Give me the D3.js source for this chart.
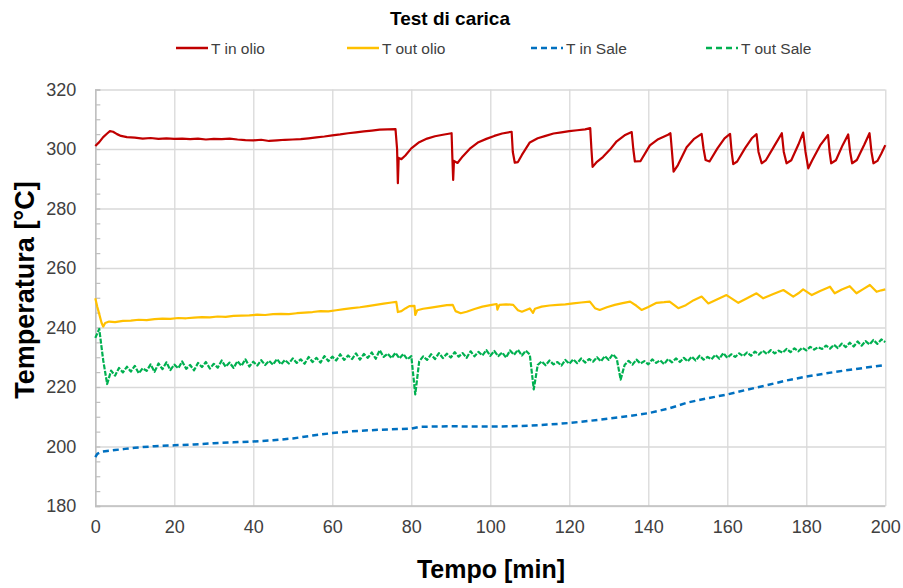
<!DOCTYPE html>
<html>
<head lang="it">
    <meta charset="UTF-8">
    <title>Test di carica</title>
    <script src="https://d3js.org/d3.v7.min.js"></script>
    <style>
        body { margin: 0; background: #fff; }
        svg text { font-family: "Liberation Sans", Arial, sans-serif; }
        .grid line { stroke: #d9d9d9; stroke-width: 1.3; }
        .grid path { display: none; }
        .line { fill: none; stroke-linejoin: round; }
    </style>
</head>
<body>
<svg id="chart" width="903" height="588"></svg>
<script>

    // data: [minutes, °C]
    const T_IN_OLIO = [[0,301.0],[1,302.3],[2,304.0],[3,305.2],[3.7,306.0],[4.5,305.8],[5.5,305.0],[6.5,304.4],[8,304.0],[10,303.8],
        [12,303.5],[14,303.7],[16,303.4],[18,303.6],[20,303.4],[22,303.5],[24,303.3],[26,303.5],[28,303.2],[30,303.4],
        [32,303.3],[34,303.5],[36,303.2],[38,303.0],[40,302.9],[42,303.1],[44,302.7],[46,302.9],[48,303.1],[50,303.2],
        [52,303.3],[54,303.6],[56,303.9],[58,304.2],[60,304.6],[62,304.9],[64,305.3],[66,305.6],[68,305.9],[70,306.2],
        [72,306.5],[74,306.6],[76,306.7],[76.4,300],[76.6,288.5],[76.8,297],[77.5,296.6],[78.5,297.8],[80,300.2],[82,302.3],
        [84,303.5],[86,304.3],[88,304.8],[90.2,305.3],[90.4,297],[90.6,289.6],[90.8,296],[91.7,295.3],[93,297.5],[95,300.3],
        [97,302.3],[99,303.4],[101,304.4],[103,305.2],[105.4,305.8],[105.7,299],[106.2,295.4],[107,295.6],[108,298],[110,302.2],
        [112,303.6],[114,304.4],[116,305.2],[118,305.6],[120,306],[122,306.3],[124,306.6],[125.3,307],[125.6,300],[125.9,294],
        [127,295.7],[128.5,297.3],[130.3,299.8],[132,302.6],[134,304.6],[135.8,305.7],[136.2,300],[136.6,295.8],[138,295.9],[140.4,301.2],
        [142.5,303.3],[145,304.8],[145.6,305.3],[146,299],[146.4,292.4],[147.5,294.6],[149.7,300.6],[151.5,303.3],[153.5,305.1],[154,300],
        [154.5,296.3],[155.5,295.8],[157.5,300.2],[159.3,303.6],[160.7,305.1],[161.1,299],[161.5,294.9],[162.5,295.8],[164.5,300.3],[166.2,303.6],
        [167.4,305],[167.9,299],[168.7,295.2],[169.8,296.3],[171.8,300.8],[173.8,305.3],[174.3,299],[175,295.2],[176.2,296.2],[178,301.5],
        [179.2,305.5],[179.8,299],[180.5,293.5],[181.5,296.2],[183.5,301.2],[185.5,304.7],[185.9,299],[186.3,295.2],[187.5,296.2],[189.2,301.3],
        [190.6,304.9],[191.1,299],[191.6,295.2],[192.8,296.3],[194.7,301.5],[196,305.3],[196.5,299],[197,295.2],[198,296],[199,298.5],[200,301.3]];

    const T_OUT_OLIO = [[0,249.8],[0.5,247],[1,244.5],[1.6,241.5],[2,240.3],[2.5,241.5],[3.5,242],[5,241.8],[7,242.2],[9,242.3],
        [11,242.6],[13,242.5],[15,242.8],[17,243],[19,242.9],[21,243.2],[23,243.1],[25,243.3],[27,243.5],[29,243.4],
        [31,243.7],[33,243.6],[35,243.9],[37,244],[39,244.1],[41,244.3],[43,244.2],[45,244.5],[47,244.6],[49,244.5],
        [51,244.8],[53,245],[55,245.2],[57,245.5],[59,245.4],[61,245.8],[63,246.2],[65,246.5],[67,246.8],[69,247.2],
        [71,247.6],[73,248],[75,248.4],[76.2,248.6],[76.6,245.2],[77.5,245.5],[78.5,246.4],[79.5,247.2],[80.8,247.3],[81,244.2],
        [81.5,245.8],[83,246.3],[85,246.7],[87,247.1],[89,247.5],[90.5,247.6],[91.2,245.5],[92.5,244.8],[94,245.3],[96,246.2],
        [98,247],[100,247.5],[101.6,247.9],[101.8,246],[102.3,247.6],[104,247.8],[105.8,247.6],[107,245.8],[108,245.3],[110,246.4],
        [110.8,244.9],[111.3,246.3],[113,247],[115,247.4],[117,247.6],[119,247.8],[121,248.1],[123,248.4],[125.2,248.7],[126.5,246.5],
        [127.7,245.9],[129.5,246.8],[131.5,247.6],[133.5,248.2],[135.4,248.7],[137,247.3],[138.3,245.9],[140,246.9],[142.1,248.3],[144,248.5],
        [145.4,248.7],[147.6,246.5],[149.5,247.5],[151.5,249.2],[153.5,250.4],[155.2,248.1],[157.5,249.5],[159.8,250.9],[162.8,248.3],[165,249.8],
        [167.4,251.5],[169.1,249.8],[171.5,251.2],[174.2,252.6],[176.7,250.4],[178,251.5],[179.2,252.8],[181.4,250.9],[183.5,252.3],[186,253.7],
        [187.2,251.5],[189,252.8],[191,253.9],[192.7,251.5],[194.5,253],[196.1,254.3],[197.8,252],[199,252.5],[200,252.8]];

    const T_IN_SALE = [[0,196.4],[0.5,197.5],[1.5,198.2],[3,198.5],[5,198.8],[7.5,199.2],[10,199.6],[15,200.1],[20,200.4],[25,200.7],
        [30,201.1],[35,201.4],[40,201.7],[45,202.1],[50,202.7],[55,203.7],[60,204.5],[65,205.1],[70,205.5],[75,205.8],
        [80,206],[82,206.6],[85,206.7],[90,206.8],[95,206.7],[100,206.7],[105,206.8],[110,207],[115,207.4],[120,207.9],
        [125,208.6],[130,209.4],[135,210.2],[140,211.2],[145,212.7],[150,214.8],[155,216.2],[160,217.5],[165,219.1],[170,220.6],
        [175,222.2],[180,223.5],[185,224.6],[190,225.6],[195,226.5],[200,227.4]];

    // one reading per minute, 0..200
    const T_OUT_SALE = [236.5,239.5,229,221,225.5,223.8,226.4,224.9,226.8,225.2,
        227.1,224.6,226.3,225.4,227.6,225.1,227.9,226,228.3,225.7,
        227.5,226.3,228.6,226.1,227.4,225.6,228.1,226.7,228.4,226.2,
        227.8,226.5,228.9,226.8,228.2,226.4,228.7,227.1,229.3,226.9,
        228.5,227.2,229,227.4,228.8,227.5,229.4,227.6,229.1,227.9,
        229.6,228.1,229.3,227.8,230.1,228.4,229.8,228.2,230.4,228.7,
        230.2,228.9,231,229.1,230.6,229.4,231.3,229.2,231.1,229.8,
        231.6,229.5,232.4,230.1,231.2,229.7,231.5,229.6,231.1,229.3,
        230.4,217.5,228.6,230.3,229.1,231,229.4,231.4,229.7,231.2,
        229.9,231.7,230.2,231.4,229.8,232,230.3,231.8,230.6,232.4,
        230.5,232.1,230.4,231.6,229.9,232.3,230.8,232.5,230.6,232.2,
        230.9,219.2,227.4,228.6,227.3,228.9,227.6,228.4,227.2,229.1,
        227.8,229.3,228,229.6,228.2,229.4,228.5,230,228.6,230.4,
        229.1,231,229.6,222.5,227.4,228.8,227.5,229.2,227.9,228.7,
        227.6,229.3,228.1,229,227.7,229.4,228.3,229.6,228.4,229.8,
        228.6,230.2,228.9,230.5,229.2,230.1,229.3,230.8,229.5,231.4,
        229.8,231,230.1,231.3,230.4,231.6,230.5,231.9,230.9,232.2,
        231.1,232.4,231.3,232.2,231.5,232.8,231.7,233,232,233.2,
        232.3,233.5,232.6,233.4,232.8,233.9,232.9,234.2,233.1,234.6,
        233.4,234.9,233.6,235.3,233.9,235.4,234.3,235.8,234.5,236,
        235.1];

    const X_TICKS = [0,20,40,60,80,100,120,140,160,180,200];
    const Y_TICKS = [180,200,220,240,260,280,300,320];
    const Y_MINOR = d3.range(180, 321, 5);

    const SERIES = [
        {name: "T in olio",  color: "#c00000", dash: null,    width: 2.2, data: T_IN_OLIO},
        {name: "T out olio", color: "#ffc000", dash: null,    width: 2.2, data: T_OUT_OLIO},
        {name: "T in Sale",  color: "#0070c0", dash: "6,4",   width: 2.5, data: T_IN_SALE},
        {name: "T out Sale", color: "#00b050", dash: "5,1.5", width: 2.2, data: T_OUT_SALE.map((v, i) => [i, v])}
    ];

    let svg = d3.select('#chart');
    const margins = {top: 89.5, left: 95.3, right: 903 - 885.3, bottom: 588 - 506};
    const width = 903 - margins.left - margins.right,
        height = 588 - margins.top - margins.bottom;

    let xscale = d3.scaleLinear().domain([0, 200]).range([0, width]);
    let yscale = d3.scaleLinear().domain([180, 320]).range([height, 0]);

    let g = svg.append('g').attr('transform', `translate(${margins.left},${margins.top})`);

    // grid
    g.append('g').attr('class', 'grid')
        .call(d3.axisLeft(yscale).tickValues(Y_TICKS).tickSize(-width).tickFormat(''));
    g.append('g').attr('class', 'grid')
        .attr('transform', `translate(0,${height})`)
        .call(d3.axisBottom(xscale).tickValues(X_TICKS).tickSize(-height).tickFormat(''));

    // left axis line + minor ticks
    g.append('g')
        .call(d3.axisRight(yscale).tickValues(Y_MINOR).tickSize(5).tickFormat(''))
        .call(a => a.selectAll('line').attr('stroke', '#bfbfbf').attr('stroke-width', 1.2))
        .call(a => a.select('.domain').attr('stroke', '#bfbfbf').attr('stroke-width', 1.5));
    g.append('line').attr('x1', 0).attr('x2', width).attr('y1', height).attr('y2', height)
        .attr('stroke', '#bfbfbf').attr('stroke-width', 1.5);

    // tick labels
    g.append('g')
        .call(d3.axisLeft(yscale).tickValues(Y_TICKS).tickSize(0).tickPadding(19))
        .call(a => a.select('.domain').remove())
        .call(a => a.selectAll('text').attr('font-family', null)
            .attr('font-size', 18).attr('fill', '#404040'));
    g.append('g')
        .attr('transform', `translate(0,${height})`)
        .call(d3.axisBottom(xscale).tickValues(X_TICKS).tickSize(0).tickPadding(14))
        .call(a => a.select('.domain').remove())
        .call(a => a.selectAll('text').attr('font-family', null)
            .attr('font-size', 18).attr('fill', '#404040'));

    // lines
    let line = d3.line().x(d => xscale(d[0])).y(d => yscale(d[1]));
    g.selectAll('.line').data(SERIES).enter().append('path')
        .attr('class', 'line')
        .attr('d', d => line(d.data))
        .attr('stroke', d => d.color)
        .attr('stroke-width', d => d.width)
        .attr('stroke-dasharray', d => d.dash);

    // titles
    svg.append('text')
        .attr('x', 450).attr('y', 25).attr('text-anchor', 'middle')
        .attr('font-size', 19).attr('font-weight', 'bold').attr('fill', '#000')
        .text('Test di carica');
    svg.append('text')
        .attr('x', 491).attr('y', 578).attr('text-anchor', 'middle')
        .attr('font-size', 25).attr('font-weight', 'bold').attr('fill', '#000')
        .text('Tempo [min]');
    svg.append('text')
        .attr('transform', 'translate(34,290) rotate(-90)').attr('text-anchor', 'middle')
        .attr('font-size', 27).attr('font-weight', 'bold').attr('fill', '#000')
        .text('Temperatura [°C]');

    // legend
    const LEGEND_X = [176, 347, 531, 706];
    let leg = svg.selectAll('.leg').data(SERIES).enter().append('g')
        .attr('class', 'leg')
        .attr('transform', (d, i) => `translate(${LEGEND_X[i]},48)`);
    leg.append('line').attr('x1', 0).attr('x2', 32).attr('y1', 0).attr('y2', 0)
        .attr('stroke', d => d.color).attr('stroke-width', 2.5)
        .attr('stroke-dasharray', d => d.dash ? '6,4' : null);
    leg.append('text')
        .attr('x', 35).attr('y', 5.5).attr('font-size', 15.5).attr('fill', '#404040')
        .text(d => d.name);

</script>
</body>
</html>
